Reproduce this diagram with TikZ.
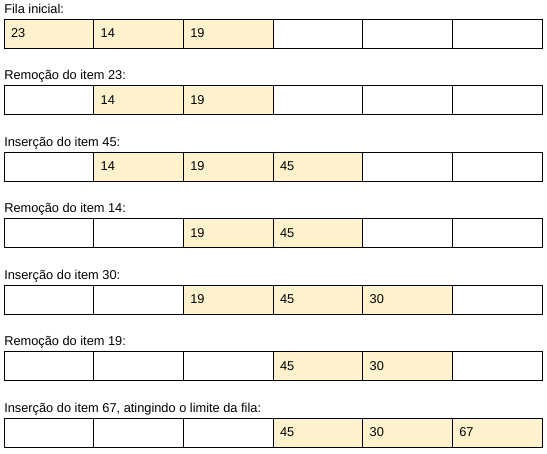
\documentclass[tikz,border=0pt]{standalone}
\usepackage{fontspec}
\setmainfont{Liberation Sans}
\usepackage{tikz}
\usetikzlibrary{positioning}
\definecolor{FilaFundo}{RGB}{255,242,204}

\tikzset{
  rotulo/.style={anchor=base west, inner sep=0pt, font=\fontsize{9.6pt}{11pt}\selectfont},
  vazia/.style={draw=black, line width=0.75pt, fill=white, minimum width=67.25pt,
    minimum height=21.75pt, inner xsep=5.25pt, inner ysep=0pt,
    text width=56.75pt, align=left, font=\fontsize{9.6pt}{11pt}\selectfont},
  cheia/.style={vazia, fill=FilaFundo}
}

\begin{document}
\begin{tikzpicture}[x=0.75pt, y=-0.75pt]
  \useasboundingbox (0,0) rectangle (547,454);
  % uma linha por estado da fila
  \foreach \lin/\y/\rot/\cel in {
      1/19/{Fila inicial:}/{23/cheia,14/cheia,19/cheia,/vazia,/vazia,/vazia},
      2/85.5/{Remoção do item 23:}/{/vazia,14/cheia,19/cheia,/vazia,/vazia,/vazia},
      3/152/{Inserção do item 45:}/{/vazia,14/cheia,19/cheia,45/cheia,/vazia,/vazia},
      4/218.5/{Remoção do item 14:}/{/vazia,/vazia,19/cheia,45/cheia,/vazia,/vazia},
      5/285/{Inserção do item 30:}/{/vazia,/vazia,19/cheia,45/cheia,30/cheia,/vazia},
      6/351.5/{Remoção do item 19:}/{/vazia,/vazia,/vazia,45/cheia,30/cheia,/vazia},
      7/418/{Inserção do item 67, atingindo o limite da fila:}/{/vazia,/vazia,/vazia,45/cheia,30/cheia,67/cheia}} {
    \node[rotulo] (rot\lin) at (4,\y-6) {\rot};
    \foreach \v/\s [count=\c] in \cel {
      \node[\s] (f\lin c\c) at (4+89.67*\c-44.83,\y+14.5) {\v};
    }
  }
\end{tikzpicture}
\end{document}
